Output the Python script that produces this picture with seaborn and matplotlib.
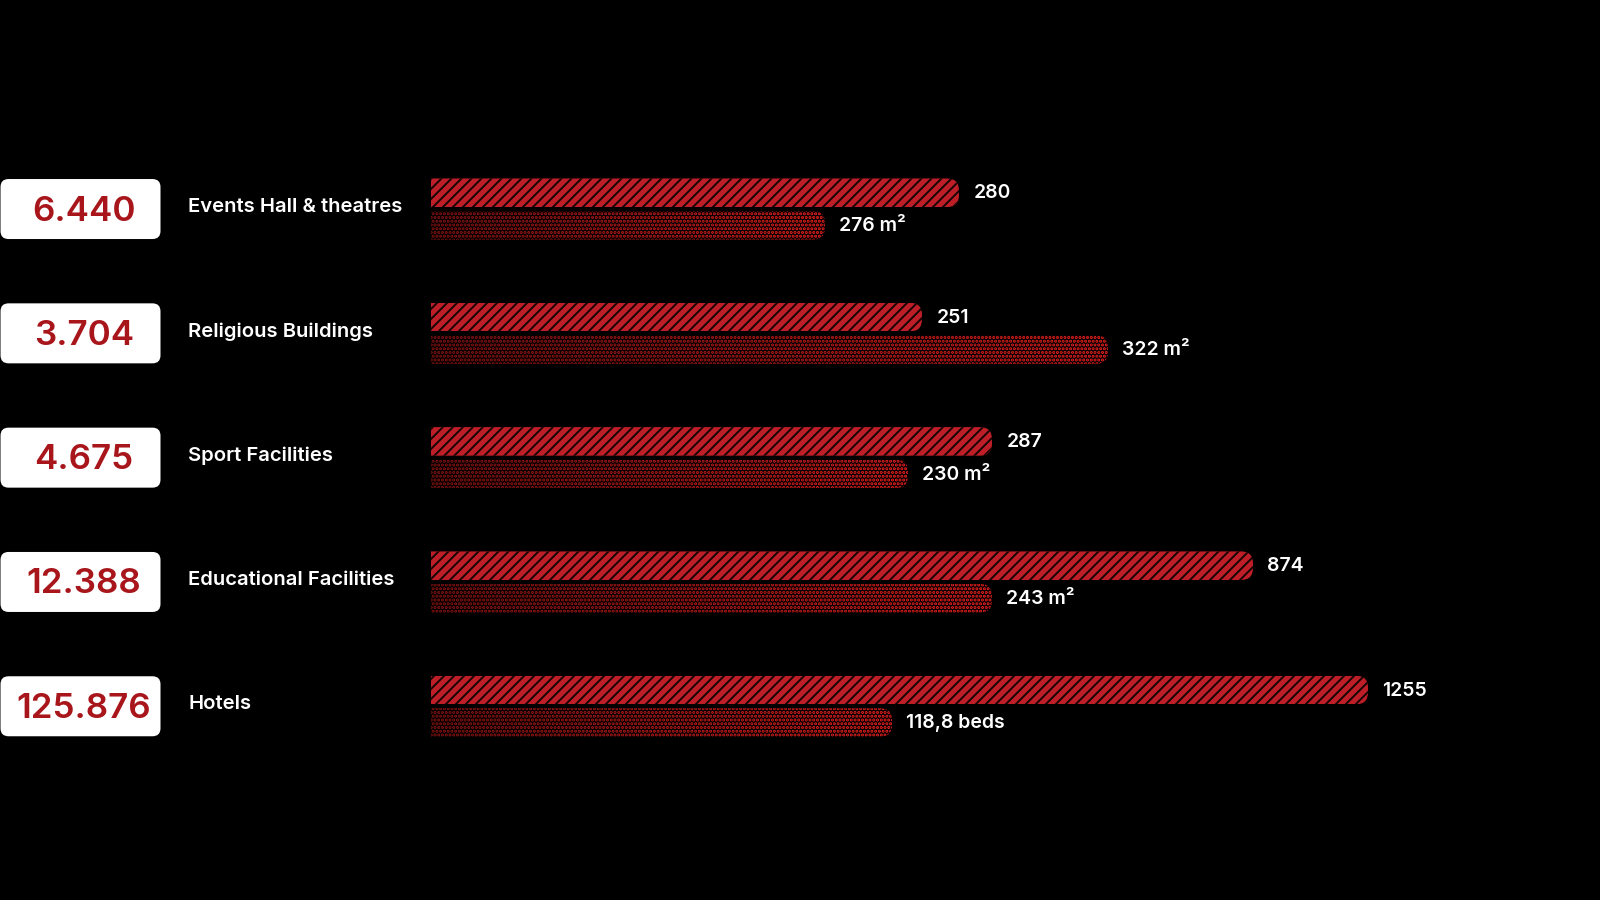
import numpy as np
import pandas as pd
import matplotlib.pyplot as plt
from matplotlib.patches import FancyBboxPatch
import seaborn as sns

categories = ["Events Hall & theatres", "Religious Buildings", "Sport Facilities",
              "Educational Facilities", "Hotels"]
totals = ["6.440", "3.704", "4.675", "12.388", "125.876"]
top_labels = ["280", "251", "287", "874", "1255"]
bottom_labels = ["276 m²", "322 m²", "230 m²", "243 m²", "118,8 beds"]
# bar lengths as drawn in the original graphic (share of the bar track, %)
top_len = [52.8, 49.1, 56.1, 82.2, 93.7]
bottom_len = [39.4, 67.7, 47.7, 56.1, 46.1]

df = pd.DataFrame({
    "Category": categories * 2,
    "Series": ["count"] * len(categories) + ["area"] * len(categories),
    "Length": top_len + bottom_len,
})

W, H, DPI = 1600, 900, 90
RED = "#be1e27"
DOT_RED = "#ff2222"
BOX_TEXT = "#a8161c"

sns.set_theme(style="white")
plt.rcParams["font.family"] = ["Inter", "DejaVu Sans"]
plt.rcParams["hatch.linewidth"] = 1.5

fig = plt.figure(figsize=(W / DPI, H / DPI), dpi=DPI, facecolor="black")

# pixel overlay for the badges and clip shapes
lay = fig.add_axes([0, 0, 1, 1], zorder=0)
lay.set_xlim(0, W)
lay.set_ylim(0, H)
lay.axis("off")

ax = fig.add_axes([431 / W, 0.1462, 1000 / W, 0.6906], zorder=1)
sns.barplot(data=df, y="Category", x="Length", hue="Series", orient="h",
            hue_order=["count", "area"], palette=[RED, "black"],
            width=0.523, gap=0.12, errorbar=None, legend=False, ax=ax)
ax.set_xlim(0, 100)
ax.set_ylim(4.5, -0.5)
ax.axis("off")


def rounded_clip(p, r=12):
    bb = p.get_window_extent()
    inv = lay.transData.inverted()
    x0, y0 = inv.transform((bb.x0, bb.y0))
    x1, y1 = inv.transform((bb.x1, bb.y1))
    return FancyBboxPatch((x0 - 2 * r, y0), x1 - x0 + 2 * r, y1 - y0,
                          boxstyle=f"round,pad=0,rounding_size={r}",
                          transform=lay.transData)


# striped bars
for p in ax.containers[0]:
    p.set_facecolor(RED)
    p.set_edgecolor("#140404")
    p.set_linewidth(0)
    p.set_hatch("///")
    if hasattr(p, "set_hatch_linewidth"):
        p.set_hatch_linewidth(1.5)
    p.set_clip_path(rounded_clip(p))

# dotted bars with a dark-to-bright fade
grad = np.zeros((1, 256, 4))
grad[..., 3] = np.linspace(0.45, 0.0, 256)
for p in ax.containers[1]:
    p.set_facecolor("black")
    p.set_edgecolor(DOT_RED)
    p.set_linewidth(0)
    p.set_hatch("....")
    if hasattr(p, "set_hatch_linewidth"):
        p.set_hatch_linewidth(1.7)
    p.set_clip_path(rounded_clip(p))
    im = ax.imshow(grad, extent=(p.get_x(), p.get_x() + p.get_width(),
                                 p.get_y() + p.get_height(), p.get_y()),
                   aspect="auto", zorder=3, interpolation="bilinear")
    im.set_clip_path(rounded_clip(p))
ax.set_xlim(0, 100)
ax.set_ylim(4.5, -0.5)

# value labels at the bar ends
for cont, labels in [(ax.containers[0], top_labels), (ax.containers[1], bottom_labels)]:
    for p, lab in zip(cont, labels):
        ax.annotate(lab, (p.get_x() + p.get_width(), p.get_y() + p.get_height() / 2),
                    xytext=(11.5, -0.5), textcoords="offset points", ha="left", va="center",
                    color="white", fontsize=15.5, fontweight="semibold",
                    annotation_clip=False, zorder=5)

# badges and category names
inv = lay.transData.inverted()
for i, (cat, tot) in enumerate(zip(categories, totals)):
    yc = inv.transform(ax.transData.transform((0, i)))[1]
    lay.add_patch(FancyBboxPatch((0.5, yc - 30), 160, 60,
                                 boxstyle="round,pad=0,rounding_size=8",
                                 facecolor="white", edgecolor="none"))
    lay.text(84, yc - 2.5, tot, ha="center", va="center", color=BOX_TEXT,
             fontsize=28, fontweight="semibold")
    lay.text(188, yc + 2, cat, ha="left", va="center", color="white",
             fontsize=16.2, fontweight="semibold")

fig.savefig("out.png", dpi=DPI, facecolor="black")
